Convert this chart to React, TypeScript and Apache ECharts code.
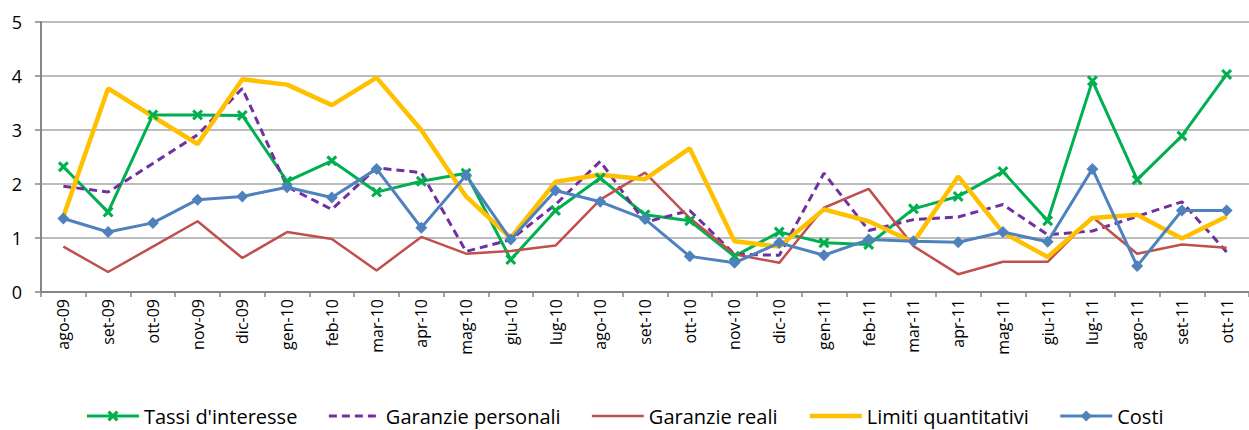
import React, { useEffect, useRef } from "react";
import * as echarts from "echarts";

const categories = [
  "ago-09", "set-09", "ott-09", "nov-09", "dic-09", "gen-10", "feb-10", "mar-10", "apr-10",
  "mag-10", "giu-10", "lug-10", "ago-10", "set-10", "ott-10", "nov-10", "dic-10", "gen-11",
  "feb-11", "mar-11", "apr-11", "mag-11", "giu-11", "lug-11", "ago-11", "set-11", "ott-11",
];

const tassiInteresse = [
  2.32, 1.48, 3.28, 3.28, 3.27, 2.05, 2.43, 1.85, 2.05, 2.2, 0.6, 1.51, 2.11, 1.43,
  1.32, 0.66, 1.11, 0.91, 0.88, 1.54, 1.77, 2.23, 1.32, 3.91, 2.08, 2.89, 4.03,
];
const garanziePersonali = [
  1.96, 1.85, 2.38, 2.91, 3.77, 1.95, 1.53, 2.3, 2.21, 0.75, 0.97, 1.62, 2.42, 1.29,
  1.51, 0.7, 0.68, 2.2, 1.14, 1.34, 1.39, 1.62, 1.06, 1.13, 1.4, 1.67, 0.74,
];
const garanzieReali = [
  0.84, 0.37, 0.84, 1.31, 0.63, 1.11, 0.98, 0.4, 1.02, 0.71, 0.76, 0.86, 1.71, 2.21,
  1.37, 0.7, 0.54, 1.56, 1.91, 0.85, 0.33, 0.56, 0.56, 1.39, 0.71, 0.88, 0.82,
];
const limitiQuantitativi = [
  1.4, 3.77, 3.25, 2.74, 3.94, 3.84, 3.46, 3.97, 3.0, 1.77, 1.0, 2.04, 2.17, 2.09,
  2.66, 0.94, 0.84, 1.53, 1.31, 0.92, 2.14, 1.1, 0.65, 1.37, 1.43, 0.99, 1.4,
];
const costi = [
  1.36, 1.11, 1.28, 1.71, 1.77, 1.94, 1.75, 2.28, 1.19, 2.16, 0.97, 1.88, 1.67, 1.35,
  0.66, 0.54, 0.91, 0.68, 0.97, 0.94, 0.92, 1.11, 0.93, 2.28, 0.48, 1.51, 1.51,
];

const yTicks = [0, 1, 2, 3, 4, 5];

const crossSymbol =
  "path://M2,0 L5,3 L8,0 L10,2 L7,5 L10,8 L8,10 L5,7 L2,10 L0,8 L3,5 L0,2 Z";

export default function App() {
  const ref = useRef<HTMLDivElement>(null);

  useEffect(() => {
    if (!ref.current) return;
    const chart = echarts.init(ref.current, null, { renderer: "svg" });
    const font = "'Open Sans', 'Noto Sans', sans-serif";
    const hidden = { opacity: 0 };
    chart.setOption({
      animation: false,
      textStyle: { fontFamily: font },
      grid: { left: 41, top: 22, width: 1218, height: 270, containLabel: false },
      legend: {
        left: "center",
        top: 405,
        itemWidth: 52,
        itemHeight: 14,
        itemGap: 30,
        padding: 0,
        lineStyle: { width: "inherit" },
        textStyle: { fontFamily: font, fontSize: 20, lineHeight: 22, color: "#000" },
        data: [
          { name: "Tassi d'interesse" },
          { name: "Garanzie personali", itemStyle: hidden },
          { name: "Garanzie reali", itemStyle: hidden },
          { name: "Limiti quantitativi", itemStyle: hidden },
          { name: "Costi" },
        ],
      },
      xAxis: {
        type: "category",
        data: categories,
        boundaryGap: true,
        axisLine: { lineStyle: { color: "#868686", width: 2 } },
        axisTick: { show: true, length: 5, inside: false, lineStyle: { color: "#868686", width: 1.5 } },
        axisLabel: {
          rotate: 90,
          interval: 0,
          margin: 7,
          fontSize: 16,
          color: "#000",
          fontFamily: font,
        },
        splitLine: { show: false },
      },
      yAxis: {
        type: "value",
        min: yTicks[0],
        max: yTicks[yTicks.length - 1],
        interval: 1,
        axisLine: { show: true, lineStyle: { color: "#868686", width: 2 } },
        axisTick: { show: true, length: 6, lineStyle: { color: "#868686", width: 1.5 } },
        axisLabel: { fontSize: 18, color: "#000", margin: 19, fontFamily: font },
        splitLine: { show: true, lineStyle: { color: "#a6a6a6", width: 1.5 } },
      },
      series: [
        {
          name: "Tassi d'interesse",
          type: "line",
          data: tassiInteresse,
          symbol: crossSymbol,
          symbolSize: 11,
          showSymbol: true,
          color: "#00B050",
          lineStyle: { color: "#00B050", width: 3 },
          itemStyle: { color: "#00B050" },
        },
        {
          name: "Garanzie personali",
          type: "line",
          data: garanziePersonali,
          symbol: "none",
          color: "#7030A0",
          lineStyle: { color: "#7030A0", width: 3, type: [8, 5] },
        },
        {
          name: "Garanzie reali",
          type: "line",
          data: garanzieReali,
          symbol: "none",
          color: "#C0504D",
          lineStyle: { color: "#C0504D", width: 2.5 },
        },
        {
          name: "Limiti quantitativi",
          type: "line",
          data: limitiQuantitativi,
          symbol: "none",
          color: "#FFC000",
          lineStyle: { color: "#FFC000", width: 4.5 },
        },
        {
          name: "Costi",
          type: "line",
          data: costi,
          symbol: "diamond",
          symbolSize: 12,
          color: "#4F81BD",
          lineStyle: { color: "#4F81BD", width: 3 },
          itemStyle: { color: "#4F81BD" },
        },
      ],
    });
    return () => chart.dispose();
  }, []);

  return (
    <div
      ref={ref}
      style={{ position: "absolute", left: 0, top: 0, width: 1249, height: 430 }}
    />
  );
}
